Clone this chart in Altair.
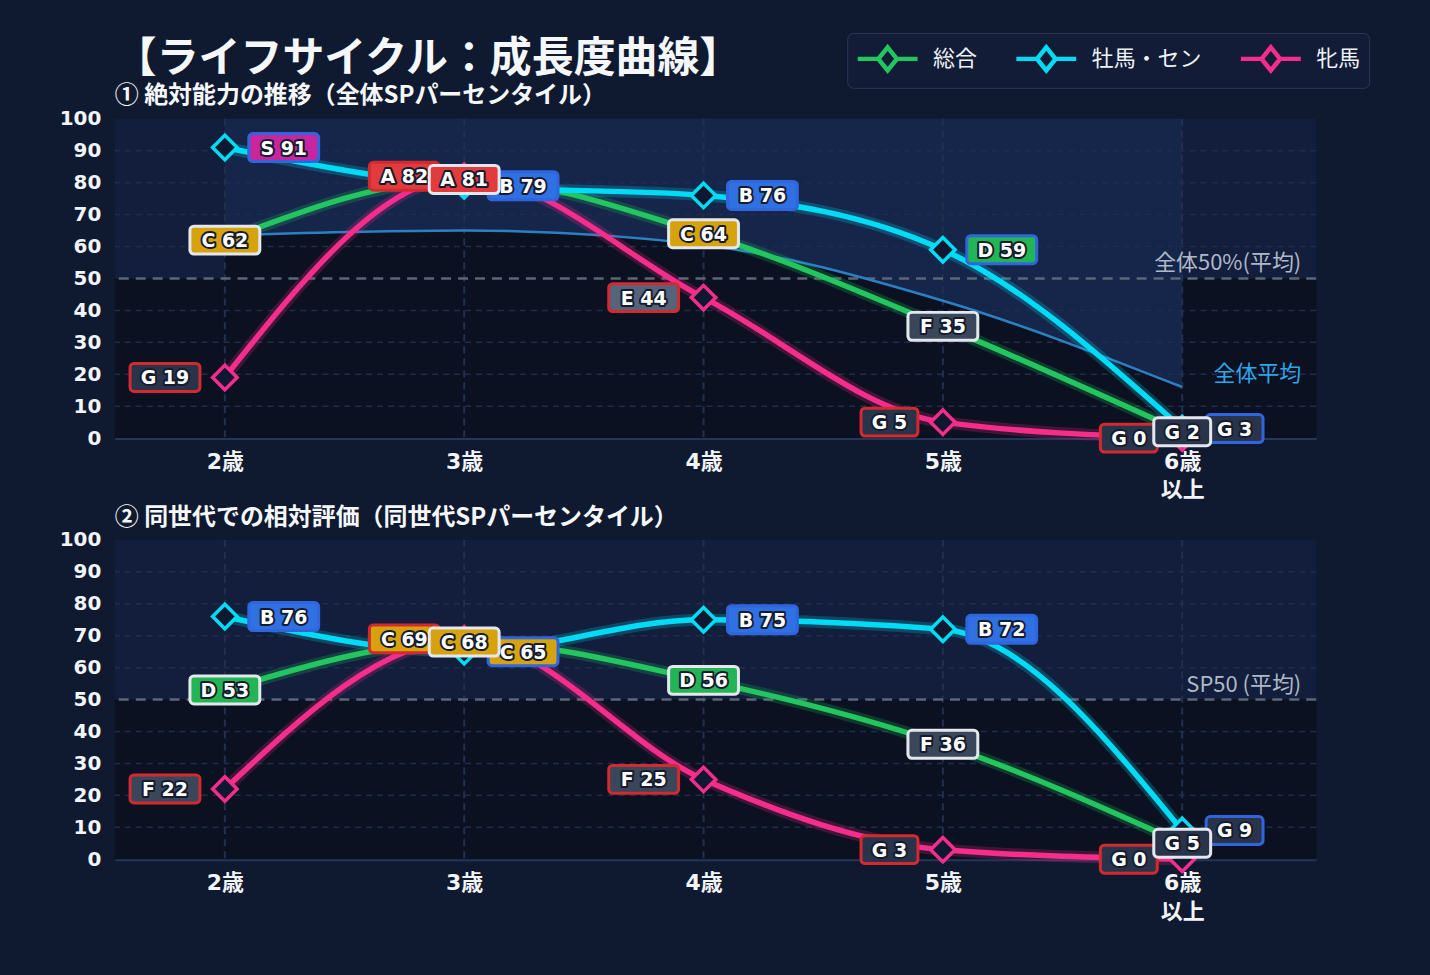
import json

import altair as alt
import pandas as pd

# ---------------- data ----------------
age_idx = [0, 1, 2, 3, 4]
age_labels = [["2歳"], ["3歳"], ["4歳"], ["5歳"], ["6歳", "以上"]]

series_names = ["総合", "牡馬・セン", "牝馬"]
series_colors = ["#22c55e", "#00dcf5", "#f72d8c"]
border_colors = ["#e4e8ee", "#2f66dd", "#d42a2f"]

# ① absolute percentile (all horses)
abs_total = [62, 81, 64, 35, 2]
abs_colt = [91, 79, 76, 59, 3]
abs_filly = [19, 82, 44, 5, 0]
abs_field_avg = [63.5, 65, 60.5, 43, 16]

# ② relative percentile (same generation)
rel_total = [53, 68, 56, 36, 5]
rel_colt = [76, 65, 75, 72, 9]
rel_filly = [22, 69, 25, 3, 0]

y_ticks = list(range(0, 101, 10))

grade_names = ["S", "A", "B", "C", "D", "E", "F", "G"]
grade_floor = [90, 80, 70, 60, 50, 40, 20, 0]
grade_colors = ["#c8259e", "#e13b3d", "#2f70e2", "#d6a20e", "#22b455",
                "#56647b", "#3a465a", "#29344a"]

# ---------------- style ----------------
W, H = 1204, 320
XDOM = [-0.46, 4.56]
BG = "#0f1a30"
UPPER = "#121e3b"
LOWER = "#0b1121"
CURVE_UP = "#16264b"
GRID = "#1f2c4c"
MID = "#5b6679"
NUM_FONT = "DejaVu Sans, Noto Sans CJK JP"
JP_FONT = "Noto Sans CJK JP"
BOX_W = {3: 57, 4: 70}

LEGEND_PATH = "M-2,0L-0.62,0M0.62,0L2,0M0,-0.77L0.62,0L0,0.77L-0.62,0Z"


def grade(v):
    for g, lo in zip(grade_names, grade_floor):
        if v >= lo:
            return g
    return grade_names[-1]


def make_frame(series_values):
    rows = []
    for name, vals in zip(series_names, series_values):
        for a, v in zip(age_idx, vals):
            g = grade(v)
            text = f"{g} {v}"
            rows.append({"series": name, "age": a, "value": v, "grade": g,
                         "label": text, "nchar": len(text)})
    return pd.DataFrame(rows)


xs = alt.Scale(domain=XDOM, nice=False, zero=False)
ys = alt.Scale(domain=[0, 100], nice=False, zero=False)
series_scale = alt.Scale(domain=series_names, range=series_colors)
grade_scale = alt.Scale(domain=grade_names, range=grade_colors)

x_axis = alt.Axis(
    values=age_idx,
    labelExpr=json.dumps(age_labels, ensure_ascii=False) + "[datum.value]",
    title=None, grid=False, ticks=False, domain=True,
    domainColor="#26365a", domainWidth=3,
    labelFont=NUM_FONT, labelFontSize=22, labelFontWeight="bold",
    labelColor="#f2f4f8", labelPadding=13, labelLineHeight=29,
)
y_axis = alt.Axis(
    values=y_ticks, title=None, grid=False, ticks=False, domain=False,
    labelOverlap=False,
    labelFont=NUM_FONT, labelFontSize=20, labelFontWeight="bold",
    labelColor="#f2f4f8", labelPadding=14,
)

legend = alt.Legend(
    orient="none", legendX=734, legendY=-86, direction="horizontal", title=None,
    symbolType=LEGEND_PATH, symbolSize=900, symbolStrokeWidth=4.5, symbolOffset=15,
    labelOffset=28, columnPadding=29, padding=8, fillColor="#121c36",
    strokeColor="#2a3858", cornerRadius=6, labelFont=JP_FONT, labelFontSize=22,
    labelColor="#eef2f7", labelLimit=400,
)


# every positional encoding carries the same axis so the layers merge cleanly
def X(field):
    return alt.X(field, scale=xs, axis=x_axis)


def Y(field):
    return alt.Y(field, scale=ys, axis=y_axis)


def YD(v):
    return alt.YDatum(v, scale=ys, axis=y_axis)


def panel(series_values, title, mid_text, field_avg=None):
    df = make_frame(series_values)
    one = alt.Chart(pd.DataFrame({"k": [0]}))
    layers = []

    # plot background: upper and lower halves
    layers.append(one.mark_rect(color=UPPER).encode(
        x=alt.value(0), x2=alt.value(W), y=YD(50), y2=alt.datum(100)))
    layers.append(one.mark_rect(color=LOWER).encode(
        x=alt.value(0), x2=alt.value(W), y=YD(0), y2=alt.datum(50)))

    if field_avg is not None:
        avg_df = pd.DataFrame({"age": age_idx, "avg": field_avg})
        avg = alt.Chart(avg_df)
        layers.append(avg.mark_area(color=CURVE_UP, interpolate="monotone").encode(
            x=X("age:Q"), y=Y("avg:Q"), y2=alt.datum(100)))
        layers.append(avg.mark_area(color=LOWER, interpolate="monotone").encode(
            x=X("age:Q"), y=Y("avg:Q"), y2=alt.datum(0)))

    # dashed grid
    hvals = [t for t in y_ticks if t not in (0, 50, 100)]
    layers.append(alt.Chart(pd.DataFrame({"v": hvals})).mark_rule(
        color=GRID, strokeWidth=1.5, strokeDash=[6, 5]).encode(y=Y("v:Q")))
    layers.append(alt.Chart(pd.DataFrame({"age": age_idx})).mark_rule(
        color="#22304f", strokeWidth=2, strokeDash=[7, 5]).encode(x=X("age:Q")))
    # 50th percentile reference
    layers.append(one.mark_rule(color=MID, strokeWidth=2.5, strokeDash=[10, 7]).encode(
        y=YD(50)))

    if field_avg is not None:
        layers.append(avg.mark_line(color="#2b80c4", strokeWidth=2.5,
                                    interpolate="monotone").encode(
            x=X("age:Q"), y=Y("avg:Q")))

    xe = X("age:Q")
    ye = Y("value:Q")

    # glow under each curve
    for name, col in zip(series_names, series_colors):
        d = df[df["series"] == name]
        layers.append(alt.Chart(d).mark_line(
            color=col, strokeWidth=12, strokeOpacity=0.22, interpolate="monotone",
            strokeCap="round").encode(x=xe, y=ye))

    layers.append(alt.Chart(df).mark_line(strokeWidth=5.5, interpolate="monotone",
                                          strokeCap="round").encode(
        x=xe, y=ye, color=alt.Color("series:N", scale=series_scale, legend=legend)))

    for name, col in zip(series_names, series_colors):
        d = df[df["series"] == name]
        layers.append(alt.Chart(d).mark_point(
            shape="diamond", size=600, filled=True, fill="#0e1830", stroke=col,
            strokeWidth=3.5, opacity=1).encode(x=xe, y=ye))

    # grade badges: filly to the left, colt to the right, overall centred on top
    for name in [series_names[2], series_names[1], series_names[0]]:
        si = series_names.index(name)
        for n in (3, 4):
            d = df[(df["series"] == name) & (df["nchar"] == n)]
            if d.empty:
                continue
            w = BOX_W[n]
            if si == 1:
                x0, x1 = 24, 24 + w
            elif si == 2:
                x0, x1 = -25 - w, -25
            else:
                x0, x1 = -w / 2, w / 2
            b = alt.Chart(d)
            layers.append(b.mark_rect(
                xOffset=x0, x2Offset=x1, yOffset=-14, y2Offset=14, cornerRadius=4,
                stroke=border_colors[si], strokeWidth=3).encode(
                x=xe, x2="age", y=ye, y2="value",
                fill=alt.Fill("grade:N", scale=grade_scale, legend=None)))
            cx = (x0 + x1) / 2
            layers.append(b.mark_text(
                dx=cx, dy=1, align="center", baseline="middle", font=NUM_FONT,
                fontSize=19, fontWeight="bold", color="#161c2e", stroke="#161c2e",
                strokeWidth=4, strokeJoin="round").encode(x=xe, y=ye, text="label:N"))
            layers.append(b.mark_text(
                dx=cx, dy=1, align="center", baseline="middle", font=NUM_FONT,
                fontSize=19, fontWeight="bold", color="#ffffff").encode(
                x=xe, y=ye, text="label:N"))

    layers.append(alt.Chart(pd.DataFrame({"t": [mid_text]})).mark_text(
        align="right", baseline="alphabetic", dy=-8, font=JP_FONT, fontSize=22,
        color="#aeb8c8").encode(x=alt.value(W - 15), y=YD(50), text="t:N"))
    if field_avg is not None:
        layers.append(alt.Chart(pd.DataFrame({"t": ["全体平均"]})).mark_text(
            align="right", baseline="middle", font=JP_FONT, fontSize=22,
            color="#2ea5e8").encode(x=alt.value(W - 15), y=YD(20), text="t:N"))

    return alt.layer(*layers).properties(width=W, height=H, title=title)


title1 = alt.TitleParams(
    text="【ライフサイクル：成長度曲線】",
    subtitle="① 絶対能力の推移（全体SPパーセンタイル）",
    anchor="start", frame="group", font=JP_FONT, fontSize=42, fontWeight="bold",
    color="#f5f7fa", subtitleFont=JP_FONT, subtitleFontSize=24,
    subtitleFontWeight="bold", subtitleColor="#f5f7fa", subtitlePadding=3, offset=0,
)
title2 = alt.TitleParams(
    text="② 同世代での相対評価（同世代SPパーセンタイル）",
    anchor="start", frame="group", font=JP_FONT, fontSize=24, fontWeight="bold",
    color="#f5f7fa", offset=0,
)

p1 = panel([abs_total, abs_colt, abs_filly], title1, "全体50%(平均)",
           field_avg=abs_field_avg)
p2 = panel([rel_total, rel_colt, rel_filly], title2, "SP50 (平均)")

chart = (
    alt.vconcat(p1, p2, spacing=102, bounds="flush")
    .properties(padding={"left": 58, "top": 31, "right": 60, "bottom": 56})
    .configure(background=BG)
    .configure_view(stroke="transparent")
)

chart.save("out.html", embed_options={"renderer": "svg", "actions": False})
